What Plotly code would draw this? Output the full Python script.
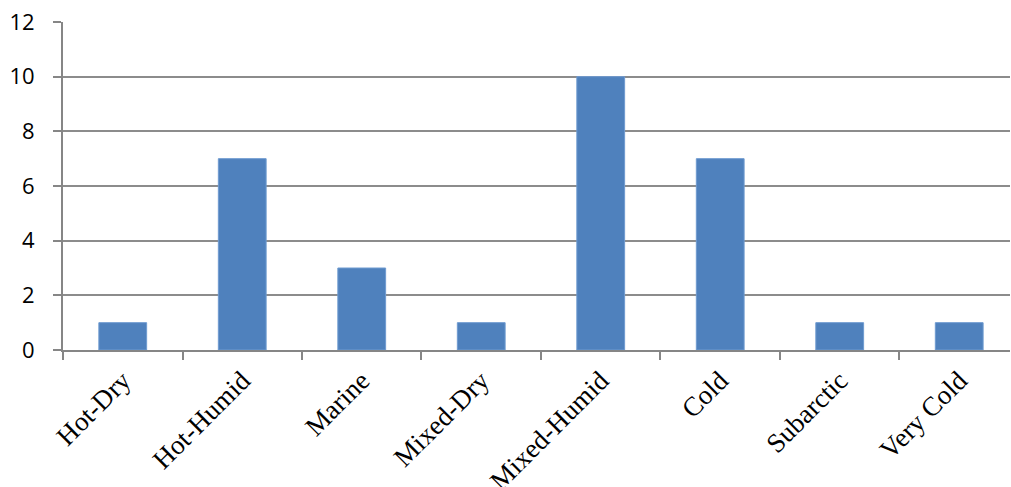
import plotly.graph_objects as go

# Climate zone counts
zones = ["Hot-Dry", "Hot-Humid", "Marine", "Mixed-Dry", "Mixed-Humid", "Cold", "Subarctic", "Very Cold"]
counts = [1, 7, 3, 1, 10, 7, 1, 1]
y_ticks = [0, 2, 4, 6, 8, 10, 12]

fig = go.Figure(
    go.Bar(
        x=zones,
        y=counts,
        width=0.4,
        marker=dict(color="#4F81BD", line=dict(color="#6f9bd0", width=1)),
    )
)

fig.update_layout(
    width=1011,
    height=487,
    margin=dict(l=63, r=1, t=22, b=137),
    paper_bgcolor="white",
    plot_bgcolor="white",
    showlegend=False,
    bargap=0.6,
)

fig.update_xaxes(
    type="category",
    range=[-0.5, 7.425],
    automargin=False,
    showline=True,
    linecolor="#868686",
    linewidth=2,
    ticks="outside",
    tickson="boundaries",
    ticklen=8,
    tickwidth=2,
    tickcolor="#868686",
    tickangle=-45,
    tickfont=dict(family="Liberation Serif", size=27, color="black"),
    ticklabelstandoff=2,
    showgrid=False,
)

fig.update_yaxes(
    range=[0, 12],
    tickvals=y_ticks,
    automargin=False,
    showline=True,
    linecolor="#868686",
    linewidth=2,
    ticks="outside",
    ticklen=8,
    tickwidth=2,
    tickcolor="#868686",
    showgrid=True,
    gridcolor="#8c8c8c",
    gridwidth=2,
    zeroline=False,
    tickfont=dict(family="Open Sans", size=22, color="black"),
    ticklabelstandoff=14,
)

fig.write_html("out.html")
